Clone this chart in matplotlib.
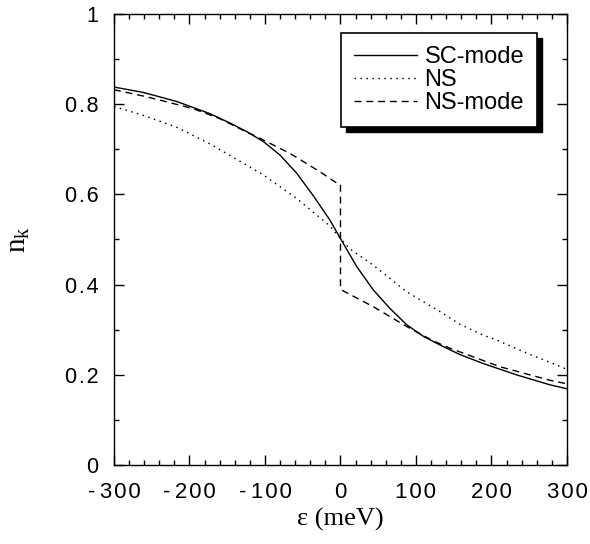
import matplotlib
matplotlib.use("Agg")
import matplotlib.pyplot as plt
from matplotlib.patches import Rectangle
from matplotlib.ticker import MultipleLocator, FixedLocator, FuncFormatter

# SC-mode (solid)
sc_x = [-300, -261, -217, -173, -146, -124, -102, -80, -58, -36, -14, 0,
        21.5, 43.5, 65.6, 87.7, 110, 132, 158, 189, 233, 277, 300]
sc_y = [0.838, 0.826, 0.806, 0.779, 0.758, 0.739, 0.717, 0.687, 0.647, 0.597, 0.543, 0.502,
        0.440, 0.388, 0.347, 0.311, 0.285, 0.266, 0.245, 0.225, 0.200, 0.178, 0.169]

# NS (dotted)
ns_x = [-300, -261, -217, -173, -146, -102, -58, -14, 0, 12.6, 43.5, 87.7,
        132, 158, 189, 207, 233, 251, 277, 300]
ns_y = [0.795, 0.775, 0.749, 0.712, 0.686, 0.643, 0.591, 0.530, 0.502, 0.479, 0.443, 0.384,
        0.340, 0.312, 0.288, 0.277, 0.258, 0.245, 0.228, 0.212]

# NS-mode (dashed), jump at 0
nsm_x = [-300, -261, -239, -195, -160, -124, -111, -67, -27, -5, 0,
         0, 3.7, 43.5, 87.7, 123, 145, 211, 277, 300]
nsm_y = [0.832, 0.818, 0.809, 0.790, 0.768, 0.738, 0.728, 0.691, 0.650, 0.625, 0.622,
         0.390, 0.386, 0.351, 0.307, 0.275, 0.259, 0.218, 0.188, 0.180]

labels = ["SC-mode", "NS", "NS-mode"]
xticks = [-300, -200, -100, 0, 100, 200, 300]
yticks = [0, 0.2, 0.4, 0.6, 0.8, 1.0]

fig = plt.figure(figsize=(5.9, 5.44), dpi=100)
ax = fig.add_axes([0.1932, 0.1452, 0.7678, 0.8291])

ax.plot(sc_x, sc_y, color="black", lw=1.0, ls="-", label=labels[0])
ax.plot(ns_x, ns_y, color="black", lw=1.0, ls=(0, (1.1, 3.2)), label=labels[1])
ax.plot(nsm_x, nsm_y, color="black", lw=1.0, ls=(0, (5.0, 3.5)), label=labels[2])

ax.set_xlim(-300, 300)
ax.set_ylim(0, 1)
ax.xaxis.set_major_locator(FixedLocator(xticks))
ax.xaxis.set_minor_locator(MultipleLocator(20))
ax.yaxis.set_major_locator(FixedLocator(yticks))
ax.yaxis.set_minor_locator(MultipleLocator(0.1))

HS = "\u200a"
def spaced(s):
    out = HS.join(list(s))
    return out.replace("-" + HS, "-\u2009")
def xfmt(v, pos):
    return spaced("%d" % v)
def yfmt(v, pos):
    if abs(v) < 1e-9:
        return "0"
    if abs(v - 1) < 1e-9:
        return "1"
    return spaced("%.1f" % v)
ax.xaxis.set_major_formatter(FuncFormatter(xfmt))
ax.yaxis.set_major_formatter(FuncFormatter(yfmt))

ax.tick_params(which="both", direction="in", top=True, right=True, width=1.0)
ax.tick_params(which="major", length=7)
ax.tick_params(axis="x", which="major", pad=12, labelsize=16)
ax.tick_params(axis="y", which="major", pad=11, labelsize=15.5)
ax.tick_params(which="minor", length=3.5)
for lab in ax.get_xticklabels() + ax.get_yticklabels():
    lab.set_family(["Liberation Sans", "DejaVu Sans"])
for sp in ax.spines.values():
    sp.set_linewidth(1.0)

ax.set_xlabel("ε (meV)", family=["Liberation Serif", "DejaVu Serif"], fontsize=19, va="center")
ax.set_ylabel("n$_{\\mathregular{k}}$", family=["Liberation Serif", "DejaVu Serif"], fontsize=21, va="center")
ax.xaxis.set_label_coords(0.5, -0.12)
ax.yaxis.set_label_coords(-0.21, 0.5)

leg = ax.legend(loc="upper right", bbox_to_anchor=(0.934, 0.958), borderaxespad=0,
                fancybox=False, framealpha=1, edgecolor="black",
                prop={"family": "Liberation Sans", "size": 17},
                handlelength=2.7, handletextpad=0.3, labelspacing=0.05,
                borderpad=0.55)
leg.get_frame().set_linewidth(1.2)
leg.set_zorder(10)

fig.canvas.draw()
bb = leg.get_window_extent()
off = 5
inv = ax.transAxes.inverted()
(x0, y0) = inv.transform((bb.x0 + off, bb.y0 - off))
(x1, y1) = inv.transform((bb.x1 + off, bb.y1 - off))
shadow = Rectangle((x0, y0), x1 - x0, y1 - y0, transform=ax.transAxes,
                   facecolor="black", edgecolor="black", zorder=9, clip_on=False)
ax.add_artist(shadow)

fig.savefig("out.png", dpi=100)
